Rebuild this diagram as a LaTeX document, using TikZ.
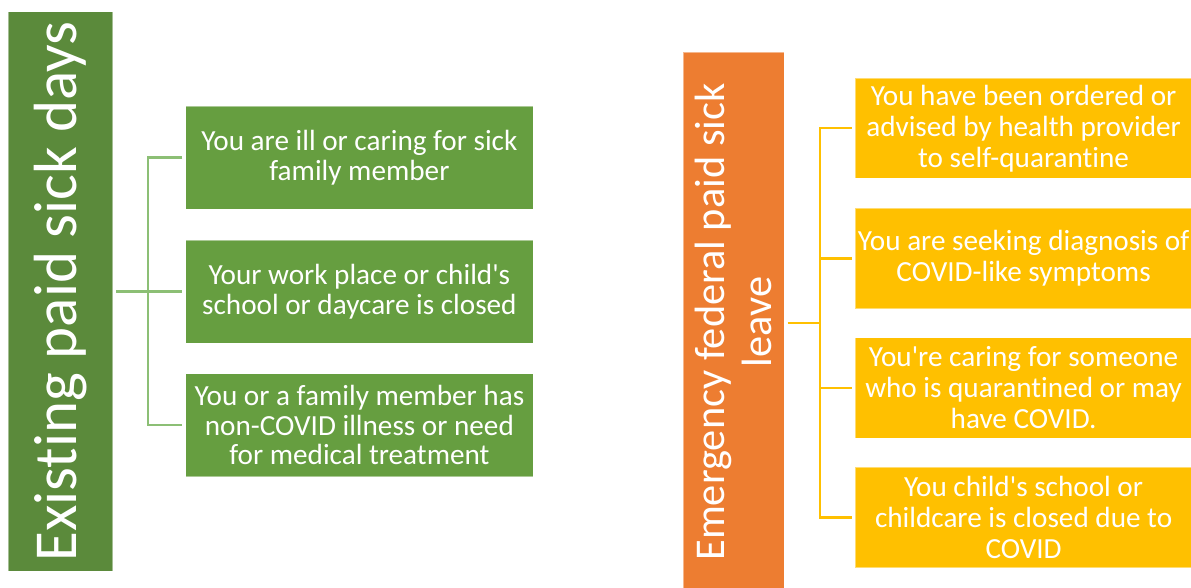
\documentclass[tikz,border=0pt]{standalone}
\usepackage{fontspec}
\setmainfont{Carlito}[Ligatures={TeXOff,NoCommon}]
\definecolor{groot}{HTML}{5B8A3B}
\definecolor{gchild}{HTML}{669E40}
\definecolor{gline}{HTML}{8CBF75}
\definecolor{oroot}{HTML}{ED7D31}
\definecolor{ychild}{HTML}{FFC000}
\tikzset{
  rootbox/.style={draw=white, draw opacity=0.45, line width=0.8pt, inner sep=0pt},
  gbox/.style={fill=gchild, draw=white, draw opacity=0.45, line width=0.8pt, minimum width=347.3pt, minimum height=103pt, inner sep=0pt, text=white, align=center, font=\fontsize{29.2}{29.5}\selectfont},
  ybox/.style={fill=ychild, draw=white, draw opacity=0.45, line width=0.8pt, minimum width=336.5pt, minimum height=100.3pt, inner sep=0pt, text=white, align=center, font=\fontsize{29.2}{31}\selectfont},
  gconn/.style={draw=gline, line width=2.3pt},
  yconn/.style={draw=ychild, line width=2.3pt},
}
\begin{document}
\begin{tikzpicture}[x=1pt,y=-1pt]
\clip (0,0) rectangle (1191,587);
\fill[white] (0,0) rectangle (1191,587);
% left group
\node[rootbox, fill=groot, minimum width=104.5pt, minimum height=559.5pt] (gr) at (60.5,291.5) {};
\node[rotate=90, text=white, inner sep=0pt, font=\fontsize{61}{66}\selectfont] (grt) at (gr.center) {Existing paid sick days};
\node[gbox] (g1) at (359.4,157.5) {You are ill or caring for sick\\family member};
\node[gbox] (g2) at (359.4,291.5) {Your work place or child's\\school or daycare is closed};
\node[gbox] (g3) at (359.4,425) {You or a family member has\\non-COVID illness or need\\for medical treatment};
\coordinate (gj) at (148,291.5);
\draw[gconn] ([xshift=-3pt]g1.west) -| (gj) |- ([xshift=-3pt]g3.west);
\draw[gconn] ([xshift=3pt]gr.east) -- ([xshift=-3pt]g2.west);
% right group
\node[rootbox, fill=oroot, minimum width=101pt, minimum height=542pt] (or) at (733.8,323) {};
\node[rotate=90, text=white, inner sep=0pt, align=center, font=\fontsize{42.4}{47}\selectfont] (ort) at ([yshift=1pt]or.center) {Emergency federal paid sick\\leave};
\node[ybox] (y1) at (1023.6,128.3) {You have been ordered or\\advised by health provider\\to self-quarantine};
\node[ybox] (y2) at (1023.6,258.5) {You are seeking diagnosis of\\COVID-like symptoms};
\node[ybox] (y3) at (1023.6,388) {You're caring for someone\\who is quarantined or may\\have COVID.};
\node[ybox] (y4) at (1023.6,517.4) {You child's school or\\childcare is closed due to\\COVID};
\coordinate (yj) at (820,323);
\draw[yconn] ([xshift=-3pt]y1.west) -| (yj) |- ([xshift=-3pt]y4.west);
\draw[yconn] (yj |- y2.west) -- ([xshift=-3pt]y2.west);
\draw[yconn] (yj |- y3.west) -- ([xshift=-3pt]y3.west);
\draw[yconn] ([xshift=3pt]or.east) -- (yj);
\end{tikzpicture}
\end{document}
